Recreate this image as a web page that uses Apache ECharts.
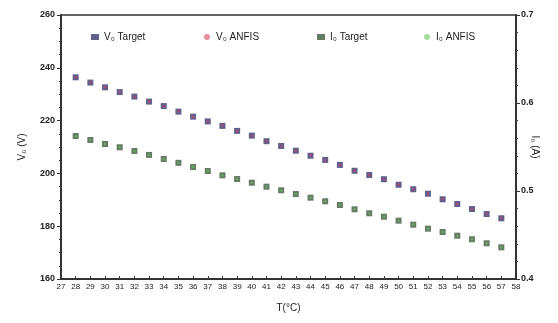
<!DOCTYPE html>
<html><head><meta charset="utf-8">
<script src="https://cdn.jsdelivr.net/npm/echarts@6/dist/echarts.min.js"></script>
<style>html,body{margin:0;padding:0;background:#fff}#c{width:558px;height:323px}</style>
</head><body><div id="c"></div>
<script>
const temperatures = [28,29,30,31,32,33,34,35,36,37,38,39,40,41,42,43,44,45,46,47,48,49,50,51,52,53,54,55,56,57];
const v0Target = [236.4,234.4,232.6,230.8,229.1,227.2,225.5,223.4,221.5,219.7,218.0,216.1,214.3,212.2,210.4,208.6,206.7,205.1,203.2,201.0,199.4,197.8,195.7,194.0,192.3,190.2,188.4,186.5,184.6,183.0];
const v0Anfis  = [236.3,234.5,232.6,230.9,229.0,227.3,225.4,223.5,221.5,219.6,218.1,216.0,214.3,212.3,210.3,208.6,206.8,205.0,203.2,201.1,199.3,197.8,195.8,193.9,192.3,190.3,188.3,186.5,184.7,183.0];
const i0Target = [0.5625,0.558,0.5534,0.5497,0.5455,0.541,0.5364,0.532,0.5273,0.5227,0.5178,0.5136,0.5094,0.5049,0.5008,0.4966,0.4924,0.4883,0.4841,0.4792,0.4747,0.4708,0.4663,0.4617,0.4572,0.4534,0.4492,0.4452,0.4406,0.436];
const i0Anfis  = [0.5623,0.5581,0.5533,0.5498,0.5454,0.5411,0.5363,0.5321,0.5272,0.5228,0.5177,0.5137,0.5093,0.505,0.5007,0.4967,0.4923,0.4884,0.484,0.4793,0.4746,0.4709,0.4662,0.4618,0.4571,0.4535,0.4491,0.4453,0.4405,0.4361];
const seriesNames = ['V₀ Target','V₀ ANFIS','I₀ Target','I₀ ANFIS'];

const axisColor = '#333';
const textColor = '#222';
const font = 'Liberation Sans, Arial, sans-serif';
const chart = echarts.init(document.getElementById('c'));
const legendPos = [86, 199, 312, 419];
chart.setOption({
  animation: false,
  backgroundColor: '#fff',
  textStyle: {fontFamily: font},
  grid: {left: 61, right: 42, top: 15, bottom: 44, show: true, borderColor: axisColor, borderWidth: 1.5},
  legend: seriesNames.map((n, i) => ({
    data: [n], left: legendPos[i], top: 27, itemWidth: 8, itemHeight: 6, itemGap: 0,
    textStyle: {fontSize: 10, color: textColor, fontFamily: font}
  })),
  xAxis: {
    type: 'value', min: 27, max: 58, interval: 1,
    name: 'T(°C)', nameLocation: 'middle', nameGap: 24,
    nameTextStyle: {fontSize: 10, color: textColor},
    axisLine: {lineStyle: {color: axisColor, width: 2}},
    axisTick: {inside: true, length: 3, lineStyle: {color: axisColor}},
    axisLabel: {fontSize: 8, color: textColor, margin: 4, showMinLabel: true, showMaxLabel: true},
    splitLine: {show: false}
  },
  yAxis: [{
    type: 'value', min: 160, max: 260, interval: 20,
    name: 'V₀ (V)', nameLocation: 'middle', nameGap: 34, nameMoveOverlap: false,
    nameTextStyle: {fontSize: 10, color: textColor},
    axisLine: {show: true, lineStyle: {color: axisColor, width: 2}},
    axisTick: {show: true, length: 4, lineStyle: {color: axisColor}},
    minorTick: {show: true, splitNumber: 4, length: 2, lineStyle: {color: axisColor}},
    axisLabel: {fontSize: 9, color: textColor, margin: 6, fontWeight: 'bold'},
    splitLine: {show: false}
  }, {
    type: 'value', min: 0.4, max: 0.7, interval: 0.1,
    name: 'I₀ (A)', nameLocation: 'middle', nameGap: 14, nameRotate: -90, nameMoveOverlap: false,
    nameTextStyle: {fontSize: 10, color: textColor},
    axisLine: {show: true, lineStyle: {color: axisColor, width: 2}},
    axisTick: {show: true, length: 4, lineStyle: {color: axisColor}},
    minorTick: {show: true, splitNumber: 5, length: 2, lineStyle: {color: axisColor}},
    axisLabel: {fontSize: 9, color: textColor, margin: 5, fontWeight: 'bold', formatter: v => v.toFixed(1)},
    splitLine: {show: false}
  }],
  series: [
    {name: seriesNames[0], type: 'scatter', yAxisIndex: 0, symbol: 'rect', symbolSize: 6,
     itemStyle: {color: '#3a3870'}, data: temperatures.map((t, i) => [t, v0Target[i]])},
    {name: seriesNames[1], type: 'scatter', yAxisIndex: 0, symbol: 'circle', symbolSize: 2.5,
     itemStyle: {color: '#d8405a', opacity: 0.6}, data: temperatures.map((t, i) => [t, v0Anfis[i]])},
    {name: seriesNames[2], type: 'scatter', yAxisIndex: 1, symbol: 'rect', symbolSize: 6,
     itemStyle: {color: '#405a3e'}, data: temperatures.map((t, i) => [t, i0Target[i]])},
    {name: seriesNames[3], type: 'scatter', yAxisIndex: 1, symbol: 'circle', symbolSize: 2.5,
     itemStyle: {color: '#6cc860', opacity: 0.6}, data: temperatures.map((t, i) => [t, i0Anfis[i]])}
  ]
});
</script></body></html>
